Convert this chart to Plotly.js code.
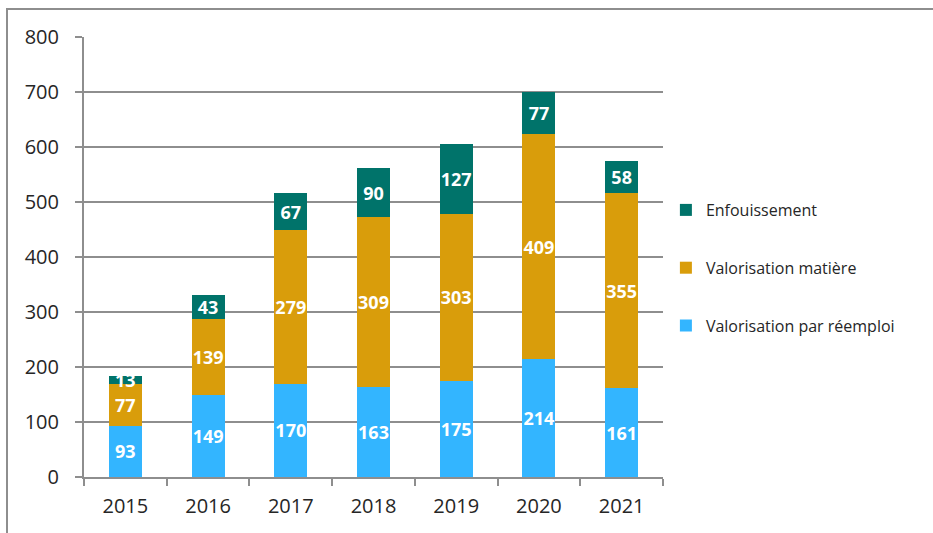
<!DOCTYPE html>
<html>
<head>
<meta charset="utf-8">
<script src="https://cdn.plot.ly/plotly-3.0.1.min.js"></script>
<style>
html,body{margin:0;padding:0;background:#fff;overflow:hidden;}
#chart{width:933px;height:533px;}
#frame{position:absolute;left:6px;top:8px;width:1000px;height:600px;border:2px solid #8e8e8e;pointer-events:none;}
</style>
</head>
<body>
<div id="chart"></div>
<div id="frame"></div>
<script>
const years = ['2015','2016','2017','2018','2019','2020','2021'];
const reemploi = [93,149,170,163,175,214,161];
const matiere = [77,139,279,309,303,409,355];
const enfouissement = [13,43,67,90,127,77,58];
const seriesNames = ['Valorisation par réemploi','Valorisation matière','Enfouissement'];
const colors = ['#33B5FF','#D99D0B','#00736A'];

const seriesValues = [reemploi, matiere, enfouissement];
const traces = seriesValues.map((vals,i)=>({
  type:'bar',
  name: seriesNames[i],
  x: years,
  y: vals,
  text: vals.map(String),
  textposition:'inside',
  insidetextanchor:'middle',
  constraintext:'none',
  textangle:0,
  textfont:{family:'Open Sans, sans-serif', size:18, color:'#ffffff', weight:'bold'},
  marker:{color:colors[i], line:{width:0}},
  width:0.4,
  legendgroup:'g'+i,
  legendrank: 3-i,
  hoverinfo:'skip'
}));

const layout = {
  barmode:'stack',
  width:933, height:533,
  margin:{l:84, r:270, t:37, b:56},
  paper_bgcolor:'#ffffff', plot_bgcolor:'#ffffff',
  showlegend:true,
  legend:{x:1.005, xanchor:'left', xref:'paper', y:0.475, yanchor:'middle',
    traceorder:'grouped', tracegroupgap:34,
    font:{family:'Open Sans, sans-serif', size:16, color:'#262626'}, itemwidth:30},
  xaxis:{
    type:'category', showline:true, linecolor:'#8e8e8e', linewidth:2,
    ticks:'outside', tickson:'boundaries', ticklen:7, tickcolor:'#8e8e8e', tickwidth:2,
    showgrid:false, zeroline:false,
    tickfont:{family:'Open Sans, sans-serif', size:20, color:'#262626'},
    ticklabelstandoff:10
  },
  yaxis:{
    range:[0,800], dtick:100, tick0:0,
    showline:true, linecolor:'#8e8e8e', linewidth:2,
    ticks:'outside', ticklen:7, tickcolor:'#8e8e8e', tickwidth:2,
    showgrid:true, gridcolor:'#8e8e8e', gridwidth:2, zeroline:false,
    tickfont:{family:'Open Sans, sans-serif', size:20, color:'#262626'},
    ticklabelstandoff:12
  }
};

Plotly.newPlot('chart', traces, layout, {staticPlot:true, displayModeBar:false});
</script>
</body>
</html>
